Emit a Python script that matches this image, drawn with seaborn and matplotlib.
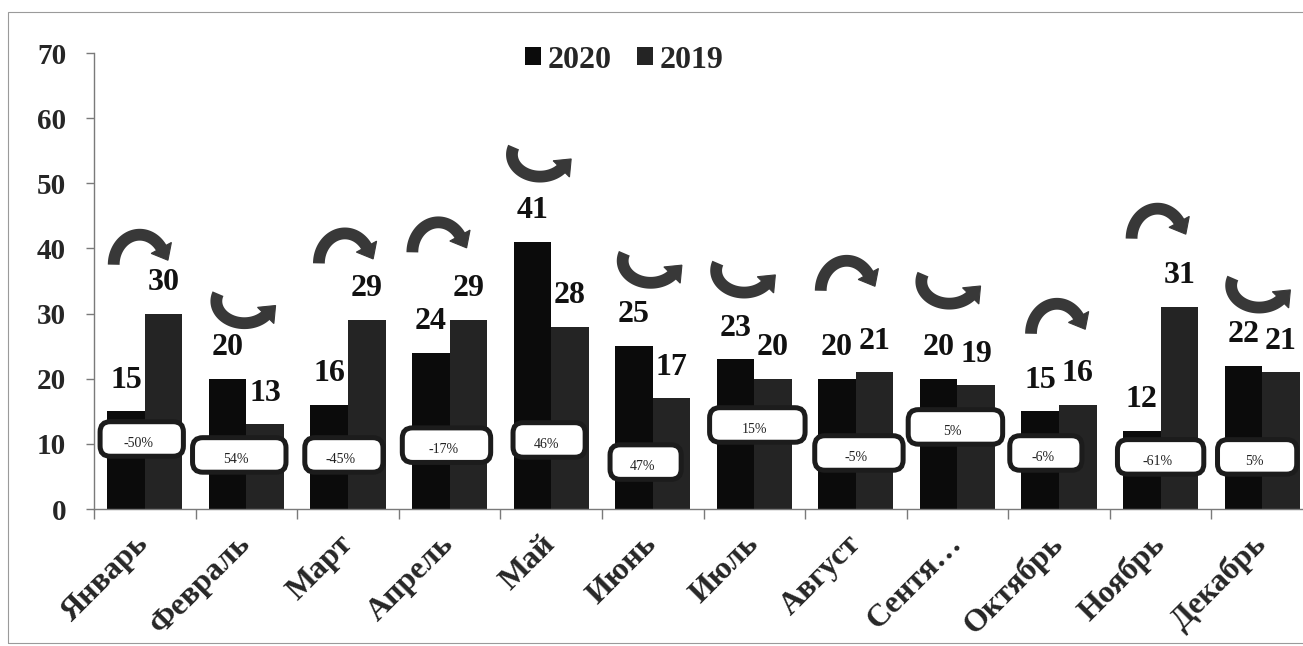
import numpy as np
import pandas as pd
import matplotlib
matplotlib.use("Agg")
import matplotlib.pyplot as plt
import seaborn as sns
from matplotlib.patches import FancyBboxPatch, Rectangle, Polygon

# ---------------- data ----------------
months = ["Январь", "Февраль", "Март", "Апрель", "Май", "Июнь", "Июль",
          "Август", "Сентя…", "Октябрь", "Ноябрь", "Декабрь"]
values_2020 = [15, 20, 16, 24, 41, 25, 23, 20, 20, 15, 12, 22]
values_2019 = [30, 13, 29, 29, 28, 17, 20, 21, 19, 16, 31, 21]
change_labels = ["-50%", "54%", "-45%", "-17%", "46%", "47%", "15%",
                 "-5%", "5%", "-6%", "-61%", "5%"]
series_names = ["2020", "2019"]
y_ticks = [0, 10, 20, 30, 40, 50, 60, 70]

# ---------------- annotation layout ----------------
box_y = [10.75, 8.3, 8.3, 9.8, 10.6, 7.2, 12.9, 8.6, 12.6, 8.6, 8.0, 8.0]
box_dx = [-0.03, -0.07, -0.04, -0.03, -0.02, -0.07, 0.03, 0.03, -0.02, -0.13, 0.0, -0.05]
box_w = [0.82, 0.92, 0.77, 0.87, 0.71, 0.70, 0.94, 0.87, 0.93, 0.71, 0.85, 0.78]
arrow_y = [40.2, 30.2, 40.4, 42.1, 52.7, 36.4, 34.9, 36.2, 33.2, 29.6, 44.2, 32.6]
arrow_dx = [-0.05, -0.02, -0.03, -0.11, -0.11, -0.02, -0.10, -0.09, -0.08, -0.02, -0.03, -0.03]

W, H = 1303, 646
sns.set_theme(style="white")
plt.rcParams["font.family"] = ["Liberation Serif", "DejaVu Serif"]

fig = plt.figure(figsize=(W / 100, H / 100), dpi=100)
ax_left, ax_bottom = 94 / W, 137 / H
ax_w, ax_h = (1313 - 94) / W, 456 / H
ax = fig.add_axes([ax_left, ax_bottom, ax_w, ax_h])

df = pd.DataFrame({
    "month": months * 2,
    "year": [series_names[0]] * len(months) + [series_names[1]] * len(months),
    "count": values_2020 + values_2019,
})
palette = {"2020": "#0b0b0b", "2019": "#242424"}
sns.barplot(data=df, x="month", y="count", hue="year", hue_order=series_names,
            order=months, palette=palette, width=0.74, gap=0, saturation=1,
            edgecolor="none", linewidth=0, ax=ax)

ax.set_xlim(-0.5, len(months) - 0.5)
ax.set_ylim(0, 70)
ax.set_xlabel("")
ax.set_ylabel("")

# value labels
for cont in ax.containers:
    ax.bar_label(cont, padding=12, fontsize=23, fontweight="bold", color="#111111")

# axes styling
for s in ["top", "right"]:
    ax.spines[s].set_visible(False)
for s in ["left", "bottom"]:
    ax.spines[s].set_color("#7a7a7a")
    ax.spines[s].set_linewidth(1.0)
ax.set_yticks(y_ticks)
ax.set_yticklabels([str(t) for t in y_ticks], fontsize=21, fontweight="bold")
ax.tick_params(axis="y", length=6, width=1, color="#7a7a7a", pad=14, left=True)
ax.set_xticks(range(len(months)))
ax.set_xticklabels(months, rotation=45, ha="right", va="center",
                   rotation_mode="anchor", fontsize=23, fontweight="bold")
ax.tick_params(axis="x", which="major", length=0, pad=22)
ax.set_xticks(np.arange(-0.5, len(months), 1.0), minor=True)
ax.tick_params(axis="x", which="minor", length=7, width=1, color="#7a7a7a",
               bottom=True, direction="out")
ax.grid(False)

# legend
handles, labels = ax.get_legend_handles_labels()
if ax.get_legend() is not None:
    ax.get_legend().remove()
fig.legend(handles, labels, loc="center", bbox_to_anchor=(624 / W, 1 - 60 / H),
           ncol=2, frameon=False, handlelength=0.5, handleheight=0.5,
           handletextpad=0.2, columnspacing=0.8,
           prop={"family": "Liberation Serif", "weight": "bold", "size": 23})

# pixel <-> data scale factors
x_per_px = (len(months)) / (ax_w * W)
y_per_px = 70 / (ax_h * H)
m_aspect = y_per_px / x_per_px

box_h = 5.3
for i, lab in enumerate(change_labels):
    cx = i + box_dx[i]
    w = box_w[i]
    patch = FancyBboxPatch((cx - w / 2, box_y[i] - box_h / 2), w, box_h,
                           boxstyle="round,pad=0,rounding_size=0.1",
                           mutation_aspect=m_aspect, fc="white", ec="#1c1c1c",
                           lw=3.6, transform=ax.transData, zorder=5)
    ax.add_patch(patch)
    ax.text(cx - 0.03, box_y[i] - 0.7, lab, ha="center", va="center",
            fontsize=10, color="#222222", zorder=6)

# curved arrows: over (decrease) / under (increase)
arrow_color = "#383838"
head_len, head_w = 14.0, 23.0
for i in range(len(months)):
    up = values_2020[i] > values_2019[i]
    cx_d = i + arrow_dx[i]
    if up:
        cy_d = arrow_y[i] + 1.7
        rx, ry = 28.0, 22.0
        th = np.radians(np.linspace(160, 322, 60))
        sgn = 1.0
    else:
        cy_d = arrow_y[i] - 2.7
        rx, ry = 26.0, 30.0
        th = np.radians(np.linspace(180, 32, 60))
        sgn = -1.0
    px = rx * np.cos(th)
    py = ry * np.sin(th)
    ax.plot(cx_d + px * x_per_px, cy_d + py * y_per_px, color=arrow_color,
            lw=8.5, solid_capstyle="butt", zorder=4, clip_on=False)
    te = th[-1]
    dvec = np.array([-rx * np.sin(te), ry * np.cos(te)]) * sgn
    dvec = dvec / np.hypot(*dvec)
    perp = np.array([-dvec[1], dvec[0]])
    end = np.array([px[-1], py[-1]]) - dvec * 1.0
    tip = end + dvec * head_len
    b1 = end + perp * head_w / 2
    b2 = end - perp * head_w / 2
    pts = np.array([b1, tip, b2])
    pts_d = np.column_stack([cx_d + pts[:, 0] * x_per_px, cy_d + pts[:, 1] * y_per_px])
    ax.add_patch(Polygon(pts_d, closed=True, fc=arrow_color, ec=arrow_color,
                         lw=0.8, zorder=4, clip_on=False))

# outer chart frame
fig.patches.append(Rectangle((8 / W, 3 / H), 1.2, (H - 15) / H,
                             transform=fig.transFigure, fill=False,
                             ec="#9a9a9a", lw=0.8))

fig.savefig("out.png", dpi=100)
